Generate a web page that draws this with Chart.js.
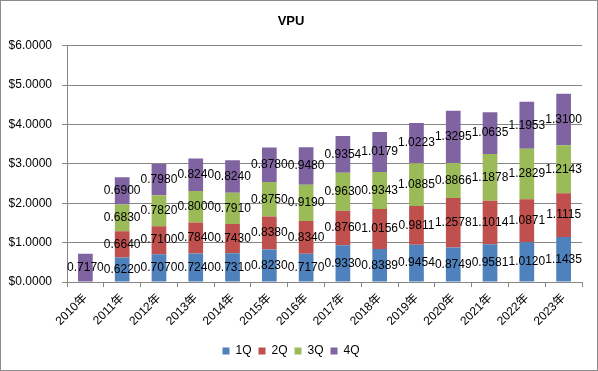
<!DOCTYPE html>
<html>
<head>
<meta charset="utf-8">
<script src="https://cdn.jsdelivr.net/npm/chart.js@4"></script>
<style>
html,body{margin:0;padding:0;background:#fff;}
canvas{display:block;}
</style>
</head>
<body>
<canvas id="c" width="598" height="371"></canvas>
<script>
const categories = ["2010年","2011年","2012年","2013年","2014年","2015年","2016年","2017年","2018年","2019年","2020年","2021年","2022年","2023年"];
const q1 = [null,0.6220,0.7070,0.7240,0.7310,0.8230,0.7170,0.9330,0.8389,0.9454,0.8749,0.9581,1.0120,1.1435];
const q2 = [null,0.6640,0.7100,0.7840,0.7430,0.8380,0.8340,0.8760,1.0156,0.9811,1.2578,1.1014,1.0871,1.1115];
const q3 = [null,0.6830,0.7820,0.8000,0.7910,0.8750,0.9190,0.9630,0.9343,1.0885,0.8866,1.1878,1.2829,1.2143];
const q4 = [0.7170,0.6900,0.7980,0.8240,0.8240,0.8780,0.9480,0.9354,1.0179,1.0223,1.3295,1.0635,1.1953,1.3100];
const seriesNames = ["1Q","2Q","3Q","4Q"];
const titleText = "VPU";

const FONT = "'Liberation Sans', Arial, 'Noto Sans CJK SC', sans-serif";
const GRID = "#868686";

const bgPlugin = {
  id: 'bg',
  beforeDraw(chart) {
    const c = chart.ctx;
    c.save();
    c.fillStyle = '#fff';
    c.fillRect(0, 0, chart.width, chart.height);
    c.restore();
  },
  afterDraw(chart) {
    const c = chart.ctx;
    c.save();
    c.strokeStyle = '#8c8c8c';
    c.lineWidth = 1;
    c.strokeRect(0.5, 0.5, chart.width - 1, chart.height - 1);
    c.restore();
  }
};

const labelPlugin = {
  id: 'vals',
  afterDatasetsDraw(chart) {
    const c = chart.ctx;
    c.save();
    c.font = "12px " + FONT;
    c.fillStyle = '#000';
    c.textAlign = 'center';
    c.textBaseline = 'middle';
    chart.data.datasets.forEach((ds, di) => {
      const meta = chart.getDatasetMeta(di);
      meta.data.forEach((el, i) => {
        const v = ds.data[i];
        if (v === null || v === undefined) return;
        c.fillText(v.toFixed(4), el.x, (el.y + el.base) / 2);
      });
    });
    c.restore();
  }
};

const colors = ["#4F81BD","#C0504D","#9BBB59","#8064A2"];
const seriesData = [q1,q2,q3,q4];

new Chart(document.getElementById('c'), {
  type: 'bar',
  data: {
    labels: categories,
    datasets: seriesNames.map((n, i) => ({
      label: n,
      data: seriesData[i],
      backgroundColor: colors[i],
      borderWidth: 0,
      barPercentage: 0.4,
      categoryPercentage: 1.0
    }))
  },
  options: {
    responsive: false,
    animation: false,
    devicePixelRatio: 1,
    layout: { padding: { left: 0, right: 16, top: 0, bottom: 4 } },
    plugins: {
      title: {
        display: true,
        text: titleText,
        color: '#000',
        font: { family: FONT, size: 13, weight: 'bold' },
        padding: { top: 14, bottom: 16 }
      },
      legend: {
        display: true,
        position: 'bottom',
        labels: {
          boxWidth: 7,
          boxHeight: 7,
          padding: 7,
          color: '#000',
          font: { family: FONT, size: 12 }
        }
      },
      tooltip: { enabled: false }
    },
    scales: {
      x: {
        stacked: true,
        grid: { display: true, drawOnChartArea: false, drawTicks: true, tickLength: 5, color: GRID, offset: true },
        border: { display: true, color: GRID },
        ticks: { color: '#000', font: { family: FONT, size: 12 }, maxRotation: 45, minRotation: 45, padding: 4 },
        afterFit(scale) { scale.height = 56; }
      },
      y: {
        stacked: true,
        min: 0,
        max: 6,
        ticks: {
          stepSize: 1,
          color: '#000',
          padding: 10,
          font: { family: FONT, size: 12 },
          callback: v => '$' + Number(v).toFixed(4)
        },
        grid: { color: GRID, tickLength: 5, drawTicks: true },
        border: { display: true, color: GRID },
        afterFit(scale) { scale.width = 67; }
      }
    }
  },
  plugins: [bgPlugin, labelPlugin]
});
</script>
</body>
</html>
